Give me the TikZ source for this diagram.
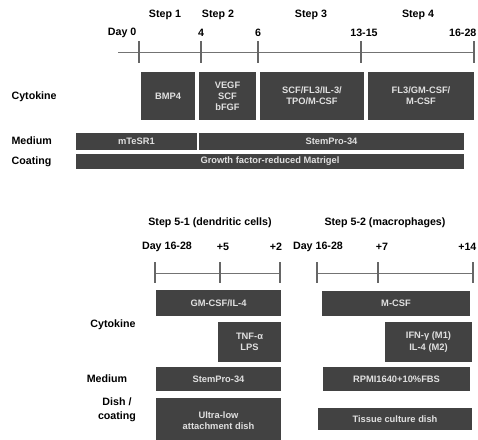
\documentclass[tikz,border=0pt]{standalone}
\usepackage{fontspec}
\setmainfont{Liberation Sans}
\usetikzlibrary{positioning}

\begin{document}
\begin{tikzpicture}[x=0.75pt,y=-0.75pt,
every node/.style={font=\bfseries\fontsize{8}{9}\selectfont, inner sep=1pt},
rowlabel/.style={anchor=west},
bar/.style 2 args={fill=black!74, text=black!12, font=\bfseries\fontsize{7}{8.4}\selectfont,
  align=center, inner sep=0pt, minimum width=#1*0.75pt, minimum height=#2*0.75pt},
axis/.style={black!55, line width=0.7pt},
tick/.style={black!60, line width=1pt}]
\clip (0,0) rectangle (478,439);

% upper time line
\coordinate (start) at (118,52);
\coordinate (d0) at (139,52);
\coordinate (d4) at (201,52);
\coordinate (d6) at (258,52);
\coordinate (d13) at (361,52);
\coordinate (d16) at (474,52);
\draw[axis] (start) -- (d16);
\foreach \c in {d0,d4,d6,d13,d16}
  \draw[tick] (\c) ++(0,-11) -- ++(0,22);

\node (s1) at (165,15) {Step 1};
\node (s2) at (218,15) {Step 2};
\node (s3) at (311,15) {Step 3};
\node (s4) at (418,15) {Step 4};
\node[anchor=east] (l0) at (138,33) {Day 0};
\node (l4) at (201,33) {4};
\node (l6) at (258,33) {6};
\node (l13) at (364,33) {13-15};
\node[anchor=east] (l16) at (478,33) {16-28};

% upper rows
\node[rowlabel] (cyt) at (10,97) {Cytokine};
\node[rowlabel] (med) at (10,141) {Medium};
\node[rowlabel] (coat) at (10,162) {Coating};

\node[bar={54}{48}] (bmp) at (168,96) {BMP4};
\node[bar={57}{48}] (vegf) at (227.5,96) {VEGF\\SCF\\bFGF};
\node[bar={104}{48}] (scf) at (312,96) {SCF/FL3/IL-3/\\TPO/M-CSF};
\node[bar={106}{48}] (flt) at (421,96) {FL3/GM-CSF/\\M-CSF};
\node[bar={121}{17}] (mtesr) at (136.5,141.5) {mTeSR1};
\node[bar={265}{17}] (stem) at (331.5,141.5) {StemPro-34};
\node[bar={388}{15}] (matri) at (270,161.5) {Growth factor-reduced Matrigel};

% lower time lines
\node (s51) at (210,223) {Step 5-1 (dendritic cells)};
\node (s52) at (385,223) {Step 5-2 (macrophages)};

\coordinate (a0) at (155,273);
\coordinate (a5) at (220,273);
\coordinate (a2) at (280,273);
\coordinate (b0) at (317,273);
\coordinate (b7) at (378,273);
\coordinate (b14) at (473,273);
\draw[axis] (a0) -- (a2);
\draw[axis] (b0) -- (b14);
\foreach \c in {a0,a5,a2,b0,b7,b14}
  \draw[tick] (\c) ++(0,-11) -- ++(0,21);

\node (la0) at (167,247) {Day 16-28};
\node (la5) at (223,247) {+5};
\node (la2) at (276,247) {+2};
\node (lb0) at (318,247) {Day 16-28};
\node (lb7) at (382,247) {+7};
\node[anchor=east] (lb14) at (478,247) {+14};

% lower rows
\node (cyt2) at (113,325) {Cytokine};
\node (med2) at (107,379) {Medium};
\node[align=center, font=\bfseries\fontsize{8}{10.5}\selectfont] (dish) at (117,410) {Dish /\\coating};

\node[bar={125}{26}] (gm) at (218.5,303) {GM-CSF/IL-4};
\node[bar={148}{25}] (mcsf) at (396,303.5) {M-CSF};
\node[bar={63}{40}] (tnf) at (249.5,342) {TNF-α\\LPS};
\node[bar={87}{40}] (ifn) at (428.5,342) {IFN-γ (M1)\\IL-4 (M2)};
\node[bar={125}{24}] (stem2) at (218.5,379) {StemPro-34};
\node[bar={147}{24}] (rpmi) at (396.5,379) {RPMI1640+10\%FBS};
\node[bar={125}{46}] (ultra) at (218.5,421) {Ultra-low\\attachment dish};
\node[bar={154}{22}] (tissue) at (395,419) {Tissue culture dish};
\end{tikzpicture}
\end{document}
